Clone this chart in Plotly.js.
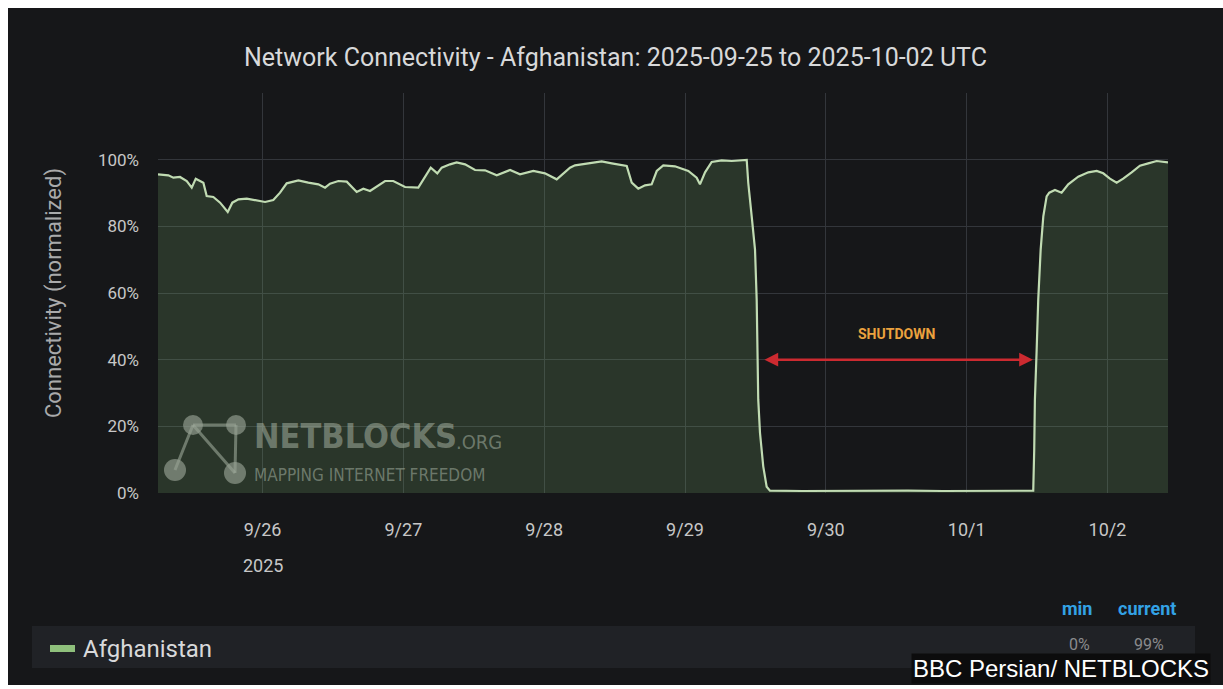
<!DOCTYPE html>
<html>
<head>
<meta charset="utf-8">
<script src="https://cdn.plot.ly/plotly-3.0.1.min.js"></script>
<style>
  html, body { margin: 0; padding: 0; background: #ffffff; width: 1223px; height: 689px; overflow: hidden; }
  #chart { position: absolute; left: 8px; top: 8px; width: 1215px; height: 677px; }
</style>
</head>
<body>
<div id="chart"></div>
<script>
// ---------------- data ----------------
const times = [
  '2025-09-25 06:11','2025-09-25 07:57','2025-09-25 08:48','2025-09-25 09:56','2025-09-25 11:05',
  '2025-09-25 11:56','2025-09-25 12:37','2025-09-25 13:21','2025-09-25 13:55','2025-09-25 14:29',
  '2025-09-25 15:37','2025-09-25 16:46','2025-09-25 18:04','2025-09-25 18:51','2025-09-25 19:53',
  '2025-09-25 21:19','2025-09-25 22:43','2025-09-26 00:26','2025-09-26 01:50','2025-09-26 02:59',
  '2025-09-26 04:07','2025-09-26 06:06','2025-09-26 07:48','2025-09-26 09:31','2025-09-26 10:39',
  '2025-09-26 11:30','2025-09-26 12:55','2025-09-26 14:21','2025-09-26 16:03','2025-09-26 17:11',
  '2025-09-26 18:19','2025-09-26 20:53','2025-09-26 22:17','2025-09-27 00:17','2025-09-27 02:33',
  '2025-09-27 03:41','2025-09-27 04:40','2025-09-27 05:47','2025-09-27 06:32','2025-09-27 07:57',
  '2025-09-27 09:05','2025-09-27 10:31','2025-09-27 12:13','2025-09-27 13:55','2025-09-27 15:55',
  '2025-09-27 18:11','2025-09-27 19:53','2025-09-27 22:09','2025-09-28 00:08','2025-09-28 02:08',
  '2025-09-28 03:16','2025-09-28 04:24','2025-09-28 05:15','2025-09-28 07:31','2025-09-28 09:48',
  '2025-09-28 11:31','2025-09-28 14:04','2025-09-28 14:55','2025-09-28 16:02','2025-09-28 17:11',
  '2025-09-28 18:19','2025-09-28 19:11','2025-09-28 20:18','2025-09-28 22:17','2025-09-29 00:34',
  '2025-09-29 01:59','2025-09-29 02:33','2025-09-29 03:25','2025-09-29 04:33','2025-09-29 06:15',
  '2025-09-29 07:58','2025-09-29 10:31','2025-09-29 10:47','2025-09-29 11:22','2025-09-29 11:56',
  '2025-09-29 12:13','2025-09-29 12:19','2025-09-29 12:29','2025-09-29 12:47','2025-09-29 13:20',
  '2025-09-29 13:55','2025-09-29 14:29','2025-09-29 20:00','2025-09-30 02:00','2025-09-30 08:00',
  '2025-09-30 14:00','2025-09-30 20:00','2025-10-01 02:00','2025-10-01 08:00','2025-10-01 11:21',
  '2025-10-01 11:31','2025-10-01 11:38','2025-10-01 11:56','2025-10-01 12:12','2025-10-01 12:37',
  '2025-10-01 13:04','2025-10-01 13:38','2025-10-01 14:05','2025-10-01 15:03','2025-10-01 16:11',
  '2025-10-01 17:19','2025-10-01 19:01','2025-10-01 20:44','2025-10-01 22:10','2025-10-01 23:17',
  '2025-10-02 00:25','2025-10-02 01:34','2025-10-02 02:41','2025-10-02 04:07','2025-10-02 05:32',
  '2025-10-02 06:57','2025-10-02 08:23','2025-10-02 10:19'
];
const connectivity = [
  95.6, 95.3, 94.6, 94.8, 93.6,
  91.6, 94.3, 93.6, 93.1, 89.1,
  88.8, 87.1, 84.3, 87.1, 88.1,
  88.3, 87.9, 87.3, 87.9, 90.1,
  92.9, 93.8, 93.1, 92.6, 91.6,
  92.8, 93.6, 93.4, 90.3, 91.3,
  90.6, 93.6, 93.6, 91.8, 91.6,
  94.6, 97.6, 95.9, 97.6, 98.6,
  99.2, 98.6, 96.9, 96.8, 95.3,
  96.9, 95.6, 96.6, 95.9, 94.1,
  95.9, 97.6, 98.3, 98.9, 99.5,
  98.9, 98.1, 93.1, 91.3, 92.3,
  92.6, 96.6, 98.3, 98.0, 96.6,
  94.6, 92.6, 96.2, 99.3, 99.8,
  99.6, 99.9, 93.0, 83.0, 73.0,
  58.0, 43.0, 28.0, 18.0, 8.0,
  1.9, 0.7, 0.6, 0.7, 0.6,
  0.7, 0.6, 0.7, 0.6, 0.7,
  13.0, 28.0, 43.0, 58.0, 73.0,
  83.0, 89.0, 90.1, 90.9, 90.1,
  92.6, 94.9, 96.2, 96.6, 95.9,
  94.3, 93.1, 94.3, 96.2, 98.2,
  98.9, 99.6, 99.2
];
const seriesName = 'Afghanistan';
const xRange = ['2025-09-25 06:11', '2025-10-02 10:19'];
const dayTicks = ['2025-09-26','2025-09-27','2025-09-28','2025-09-29','2025-09-30','2025-10-01','2025-10-02'];
const dayLabels = ['9/26','9/27','9/28','9/29','9/30','10/1','10/2'];
const yearLabel = '2025';
const yTickVals = [0, 20, 40, 60, 80, 100, 120];
const yTickLabels = ['0%', '20%', '40%', '60%', '80%', '100%', ''];
const shutdownStart = '2025-09-29 13:17';
const shutdownEnd = '2025-10-01 11:18';
const shutdownMid = '2025-09-30 12:07';
const shutdownLevel = 40;
const shutdownLabelLevel = 47.7;
const statHeaders = ['min', 'current'];
const statValues = ['0%', '99%'];

// ---------------- layout helpers ----------------
const W = 1215, H = 677;
const M = {l: 150, r: 55, t: 85, b: 192};
const PW = W - M.l - M.r, PH = H - M.t - M.b;
// convert pixel in the chart div to paper coordinates
const px = x => (x - M.l) / PW;
const py = y => (H - M.b - y) / PH;

const wm = 'rgba(165,178,162,0.55)';
const shapes = [];
const annotations = [];

// legend band
shapes.push({type:'rect', xref:'paper', yref:'paper', x0:px(24), x1:px(1187), y0:py(660), y1:py(618),
  fillcolor:'#202226', line:{width:0}, layer:'below'});
// legend swatch
shapes.push({type:'rect', xref:'paper', yref:'paper', x0:px(42), x1:px(67), y0:py(644), y1:py(637),
  fillcolor:'#8fc07c', line:{width:0}});

// watermark icon
const nodes = [[185,417,10],[228,417,10],[167,462,11],[227,465,11]];
const links = [[0,1],[0,2],[0,3],[1,3]];
links.forEach(([a,b]) => {
  shapes.push({type:'line', xref:'paper', yref:'paper', x0:px(nodes[a][0]), y0:py(nodes[a][1]),
    x1:px(nodes[b][0]), y1:py(nodes[b][1]), line:{color:wm, width:3}});
});
nodes.forEach(([cx,cy,r]) => {
  shapes.push({type:'circle', xref:'paper', yref:'paper', x0:px(cx-r), x1:px(cx+r), y0:py(cy+r), y1:py(cy-r),
    fillcolor:'rgba(150,162,148,0.65)', line:{width:0}});
});

// watermark text
annotations.push({xref:'paper', yref:'paper', x:px(244), y:py(428), xanchor:'left', yanchor:'middle',
  text:'<b>NETBLOCKS</b>', showarrow:false,
  font:{family:"'DejaVu Sans Condensed', 'Liberation Sans Narrow', Roboto, sans-serif", size:34, color:wm}});
annotations.push({xref:'paper', yref:'paper', x:px(446), y:py(434), xanchor:'left', yanchor:'middle',
  text:'.ORG', showarrow:false,
  font:{family:"'DejaVu Sans Condensed', Roboto, sans-serif", size:20, color:wm}});
annotations.push({xref:'paper', yref:'paper', x:px(244), y:py(467), xanchor:'left', yanchor:'middle',
  text:'MAPPING INTERNET FREEDOM', showarrow:false,
  font:{family:"'DejaVu Sans Condensed', Roboto, sans-serif", size:17, color:wm}});

// shutdown arrow and label
annotations.push({x:shutdownEnd, y:shutdownLevel, ax:shutdownStart, ay:shutdownLevel,
  xref:'x', yref:'y', axref:'x', ayref:'y', text:'', showarrow:true,
  arrowside:'end+start', arrowhead:2, arrowsize:1.1, arrowwidth:2.5, arrowcolor:'#cc2a30'});
annotations.push({x:shutdownMid, y:shutdownLabelLevel, xref:'x', yref:'y', text:'<b>SHUTDOWN</b>',
  showarrow:false, font:{family:'Roboto, sans-serif', size:14, color:'#eba23e'}});

// year under first tick
annotations.push({x:dayTicks[0], xref:'x', yref:'paper', y:py(557), xanchor:'center', yanchor:'middle', text:yearLabel,
  showarrow:false, font:{family:'Roboto, sans-serif', size:18, color:'#c7c7c7'}});

// legend text
annotations.push({xref:'paper', yref:'paper', x:px(73), y:py(641), xanchor:'left', yanchor:'middle',
  text:seriesName, showarrow:false, font:{family:'Roboto, sans-serif', size:24, color:'#d8d9da'}});
const statX = [1069, 1139];
statHeaders.forEach((h, i) => {
  annotations.push({xref:'paper', yref:'paper', x:px(statX[i]), y:py(600), xanchor:'center', yanchor:'middle',
    text:'<b>'+h+'</b>', showarrow:false, font:{family:'Roboto, sans-serif', size:18, color:'#33a2e5'}});
  annotations.push({xref:'paper', yref:'paper', x:px(statX[i]+2), y:py(636), xanchor:'center', yanchor:'middle',
    text:statValues[i], showarrow:false, font:{family:'Roboto, sans-serif', size:16, color:'#8a8b8d'}});
});

// credit
annotations.push({xref:'paper', yref:'paper', x:px(1203), y:py(660), xanchor:'right', yanchor:'middle',
  text:'BBC Persian/ NETBLOCKS', showarrow:false, bgcolor:'#0c0c0d', borderpad:1,
  font:{family:"'Liberation Sans', Arial, sans-serif", size:24, color:'#ffffff'}});

const trace = {
  type:'scatter', mode:'lines', name:seriesName, x:times, y:connectivity,
  line:{color:'#c0dbb2', width:2.2}, fill:'tozeroy', fillcolor:'rgba(126,178,109,0.2)',
  hoverinfo:'x+y'
};

const layout = {
  width:W, height:H,
  paper_bgcolor:'#161719', plot_bgcolor:'#161719',
  margin:M, showlegend:false,
  font:{family:'Roboto, sans-serif', color:'#c7c7c7'},
  title:{text:'Network Connectivity - Afghanistan: 2025-09-25 to 2025-10-02 UTC',
    x:0.5, xanchor:'center', xref:'container', yref:'container', y:1 - 49/H, yanchor:'middle',
    font:{family:'Roboto, sans-serif', size:25, color:'#d8d9da'}},
  xaxis:{type:'date', range:xRange, tickvals:dayTicks, ticktext:dayLabels,
    showgrid:true, gridcolor:'#33363b', gridwidth:1, zeroline:false, showline:false, ticks:'',
    ticklabelstandoff:24, tickfont:{size:18, color:'#c7c7c7'}},
  yaxis:{range:[0,120], tickvals:yTickVals, ticktext:yTickLabels,
    showgrid:true, gridcolor:'#33363b', gridwidth:1, zeroline:false, showline:false, ticks:'',
    ticklabelstandoff:18, tickfont:{size:17, color:'#c7c7c7'},
    title:{text:'Connectivity (normalized)', standoff:30, font:{size:22, color:'#a9aaab'}}},
  shapes:shapes, annotations:annotations
};

Plotly.newPlot('chart', [trace], layout, {displayModeBar:false, staticPlot:true});
</script>
</body>
</html>
